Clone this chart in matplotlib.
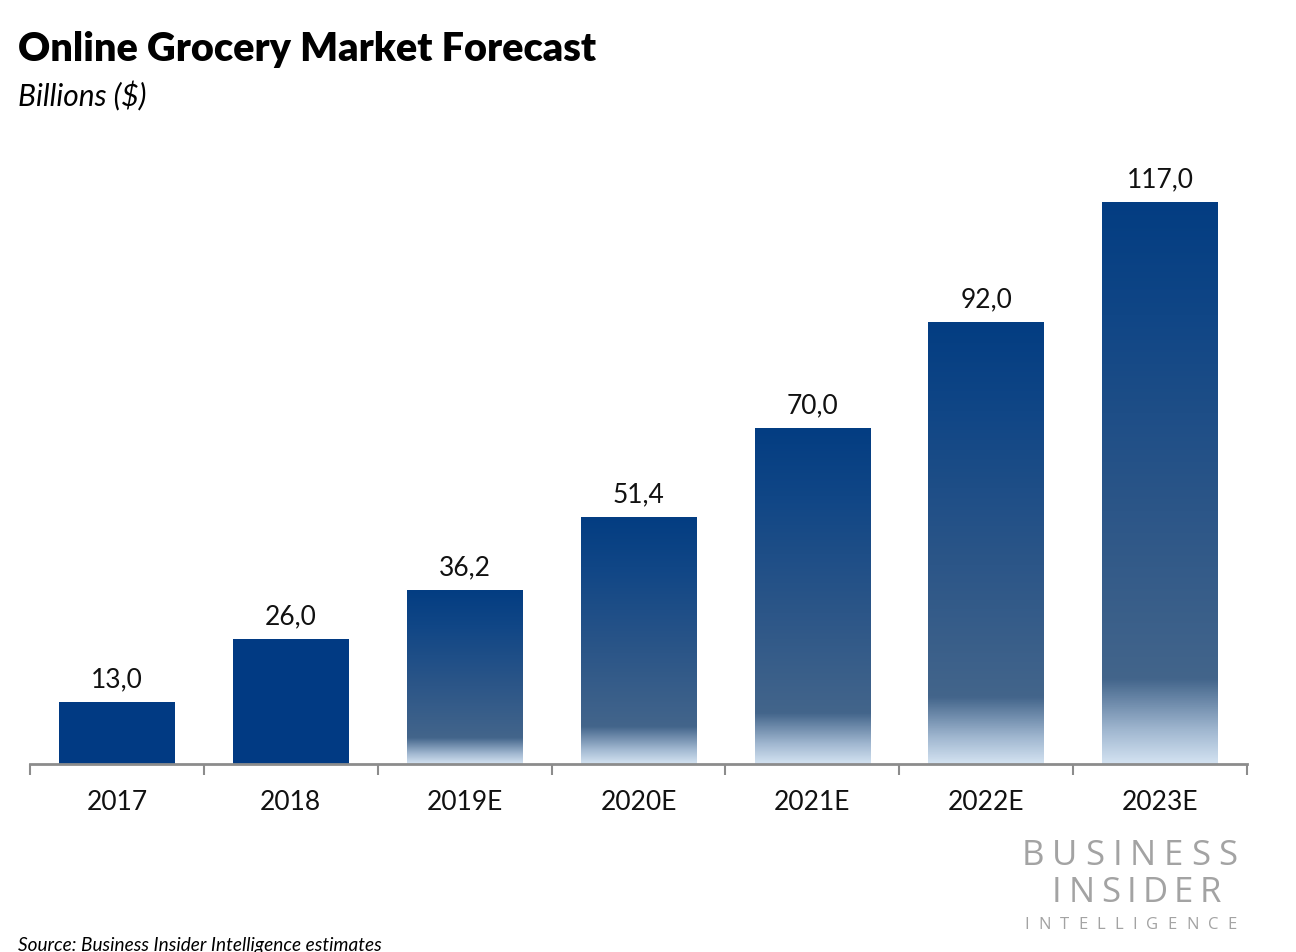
import numpy as np
import matplotlib
matplotlib.use("Agg")
import matplotlib.pyplot as plt
from matplotlib.colors import LinearSegmentedColormap

categories = ["2017", "2018", "2019E", "2020E", "2021E", "2022E", "2023E"]
values = [13.0, 26.0, 36.2, 51.4, 70.0, 92.0, 117.0]
gradient_flags = [False, False, True, True, True, True, True]
value_labels = ["13,0", "26,0", "36,2", "51,4", "70,0", "92,0", "117,0"]

title = "Online Grocery Market Forecast"
subtitle = "Billions ($)"
source = "Source: Business Insider Intelligence estimates"
logo_lines = ["BUSINESS", "INSIDER", "INTELLIGENCE"]

plt.rcParams['font.family'] = ['Lato', 'DejaVu Sans']

W, H = 1296, 952
fig = plt.figure(figsize=(W / 100, H / 100), dpi=100)
fig.patch.set_facecolor("white")

left_px, right_px = 30, 1247
base_px = 764
px_per_unit = 4.8
ymax = 130
ax_h = ymax * px_per_unit
ax = fig.add_axes([left_px / W, (H - base_px) / H, (right_px - left_px) / W, ax_h / H])
ax.set_xlim(-0.5, len(categories) - 0.5)
ax.set_ylim(0, ymax)

solid = "#013a83"
cmap = LinearSegmentedColormap.from_list(
    "g", [(0.0, "#d3e2f1"), (0.06, "#9fb6cf"), (0.15, "#43658b"),
          (0.45, "#2c5688"), (0.8, "#104686"), (1.0, "#033d82")])

width = 0.665
x = np.arange(len(categories))
bars = ax.bar(x, values, width=width, color=solid, zorder=2)
grad = np.linspace(0, 1, 256).reshape(-1, 1)
for b, v, g in zip(bars, values, gradient_flags):
    if g:
        b.set_facecolor("none")
        im = ax.imshow(grad, cmap=cmap, origin="lower", aspect="auto",
                       extent=[b.get_x(), b.get_x() + b.get_width(), 0, v], zorder=2)
        im.set_clip_path(b)

for xi, v, lab in zip(x, values, value_labels):
    ax.annotate(lab, (xi, v), xytext=(0, 7), textcoords="offset points",
                ha="center", va="bottom", fontsize=19, color="#111111")

for s in ["top", "right", "left"]:
    ax.spines[s].set_visible(False)
ax.spines["bottom"].set_color("#8c8c8c")
ax.spines["bottom"].set_linewidth(2)
ax.set_yticks([])
ax.set_xticks(np.arange(-0.5, len(categories), 1.0))
ax.set_xticklabels([])
ax.set_xticks(x, minor=True)
ax.set_xticklabels(categories, minor=True, fontsize=19, color="#111111")
ax.tick_params(axis="x", which="major", length=8, width=1.5, color="#8c8c8c")
ax.tick_params(axis="x", which="minor", length=0, pad=19)
ax.set_xlim(-0.5, len(categories) - 0.5)

fig.text(18 / W, 1 - 50 / H, title, fontsize=28.5, fontweight="heavy", va="center", ha="left", color="black")
fig.text(18 / W, 1 - 96 / H, subtitle, fontsize=21.5, style="italic", va="center", ha="left", color="black")
fig.text(18 / W, 1 - 946 / H, source, fontsize=13.7, style="italic", va="center", ha="left", color="black")

logo_c = "#a3a3a3"
renderer = fig.canvas.get_renderer()


def tracked(text, x0, x1, yc, size):
    arts = []
    widths = []
    for ch in text:
        t = fig.text(0, 1 - yc / H, ch, fontsize=size, color=logo_c, ha="left",
                     va="center", family="Open Sans")
        bb = t.get_window_extent(renderer)
        arts.append(t)
        widths.append(bb.width)
    gap = (x1 - x0 - sum(widths)) / (len(text) - 1)
    pos = x0
    for t, w in zip(arts, widths):
        t.set_x(pos / W)
        pos += w + gap


tracked(logo_lines[0], 1022, 1237, 856, 25)
tracked(logo_lines[1], 1052, 1221, 893, 25)
tracked(logo_lines[2], 1024, 1237, 925, 12)

fig.savefig("out.png", dpi=100, facecolor="white")
